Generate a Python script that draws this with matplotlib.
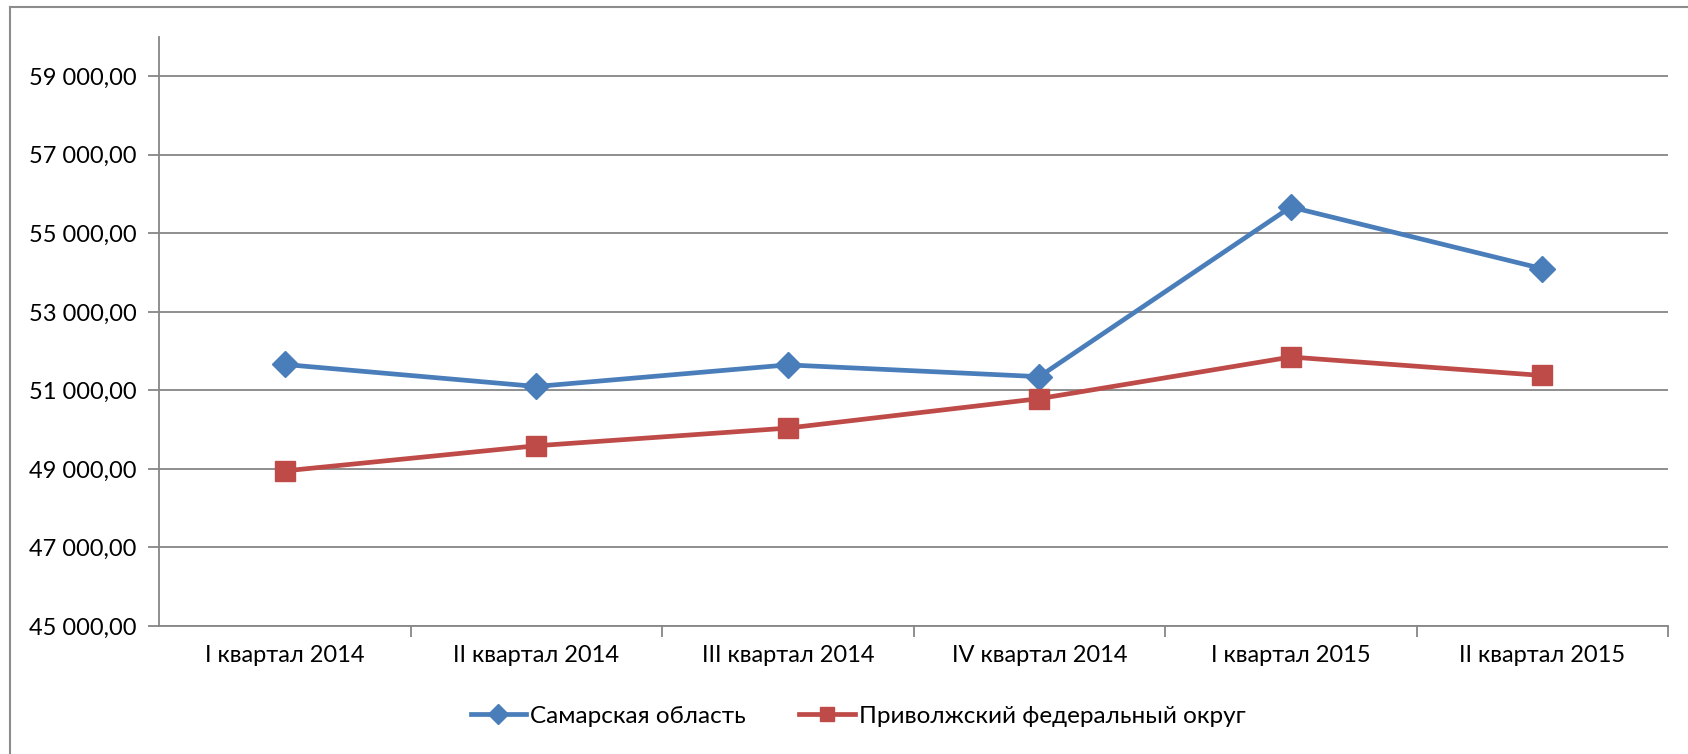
import matplotlib.pyplot as plt
from matplotlib.lines import Line2D

# quarters and average wages
quarters = ["I квартал 2014", "II квартал 2014", "III квартал 2014",
            "IV квартал 2014", "I квартал 2015", "II квартал 2015"]
samara = [51660, 51100, 51650, 51350, 55670, 54100]
pfo = [48950, 49590, 50040, 50790, 51850, 51380]
y_ticks = [45000, 47000, 49000, 51000, 53000, 55000, 57000, 59000]

BLUE = "#4a7ebb"
RED = "#be4b48"
GRID = "#868686"


def fmt(v):
    s = "{:,.2f}".format(v)
    return s.replace(",", " ").replace(".", ",")


def main():
    plt.rcParams['font.family'] = ['Lato', 'DejaVu Sans']
    fig = plt.figure(figsize=(16.88, 7.54), dpi=100)
    W, H = 1688, 754

    # chart area border (left and top edges visible)
    fig.add_artist(Line2D([10 / W, 10 / W], [0, 1 - 7 / H], color="#8c8c8c", lw=1.5))
    fig.add_artist(Line2D([10 / W, 1], [1 - 7 / H, 1 - 7 / H], color="#8c8c8c", lw=1.5))

    ax = fig.add_axes([159 / W, 1 - 626 / H, (1668 - 159) / W, (626 - 37) / H])

    x = list(range(len(quarters)))
    ax.plot(x, samara, color=BLUE, lw=3.4, marker="D", markersize=13,
            label="Самарская область")
    ax.plot(x, pfo, color=RED, lw=3.4, marker="s", markersize=14,
            label="Приволжский федеральный округ")

    ax.set_xlim(-0.5, len(quarters) - 0.5)
    ax.set_ylim(45000, 60000)
    ax.set_yticks(y_ticks)
    ax.set_yticklabels([fmt(v) for v in y_ticks])
    ax.set_xticks(x)
    ax.set_xticklabels(quarters)
    ax.set_xticks([i + 0.5 for i in x], minor=True)

    ax.grid(axis="y", color=GRID, lw=1.3)
    ax.set_axisbelow(True)
    for side in ["top", "right"]:
        ax.spines[side].set_visible(False)
    for side in ["left", "bottom"]:
        ax.spines[side].set_color(GRID)
        ax.spines[side].set_linewidth(1.3)

    ax.tick_params(axis="y", length=8, color=GRID, width=1.3, labelsize=17, pad=8)
    ax.tick_params(axis="x", which="major", length=0, labelsize=17, pad=14)
    ax.tick_params(axis="x", which="minor", length=8, color=GRID, width=1.3)

    fig.legend(loc="center", bbox_to_anchor=(858 / W, 1 - 716 / H), ncol=2,
               frameon=False, fontsize=17.5, handlelength=2.3, handletextpad=0.15,
               columnspacing=2.2, markerscale=0.75)

    fig.savefig("out.png", dpi=100)


if __name__ == "__main__":
    main()
